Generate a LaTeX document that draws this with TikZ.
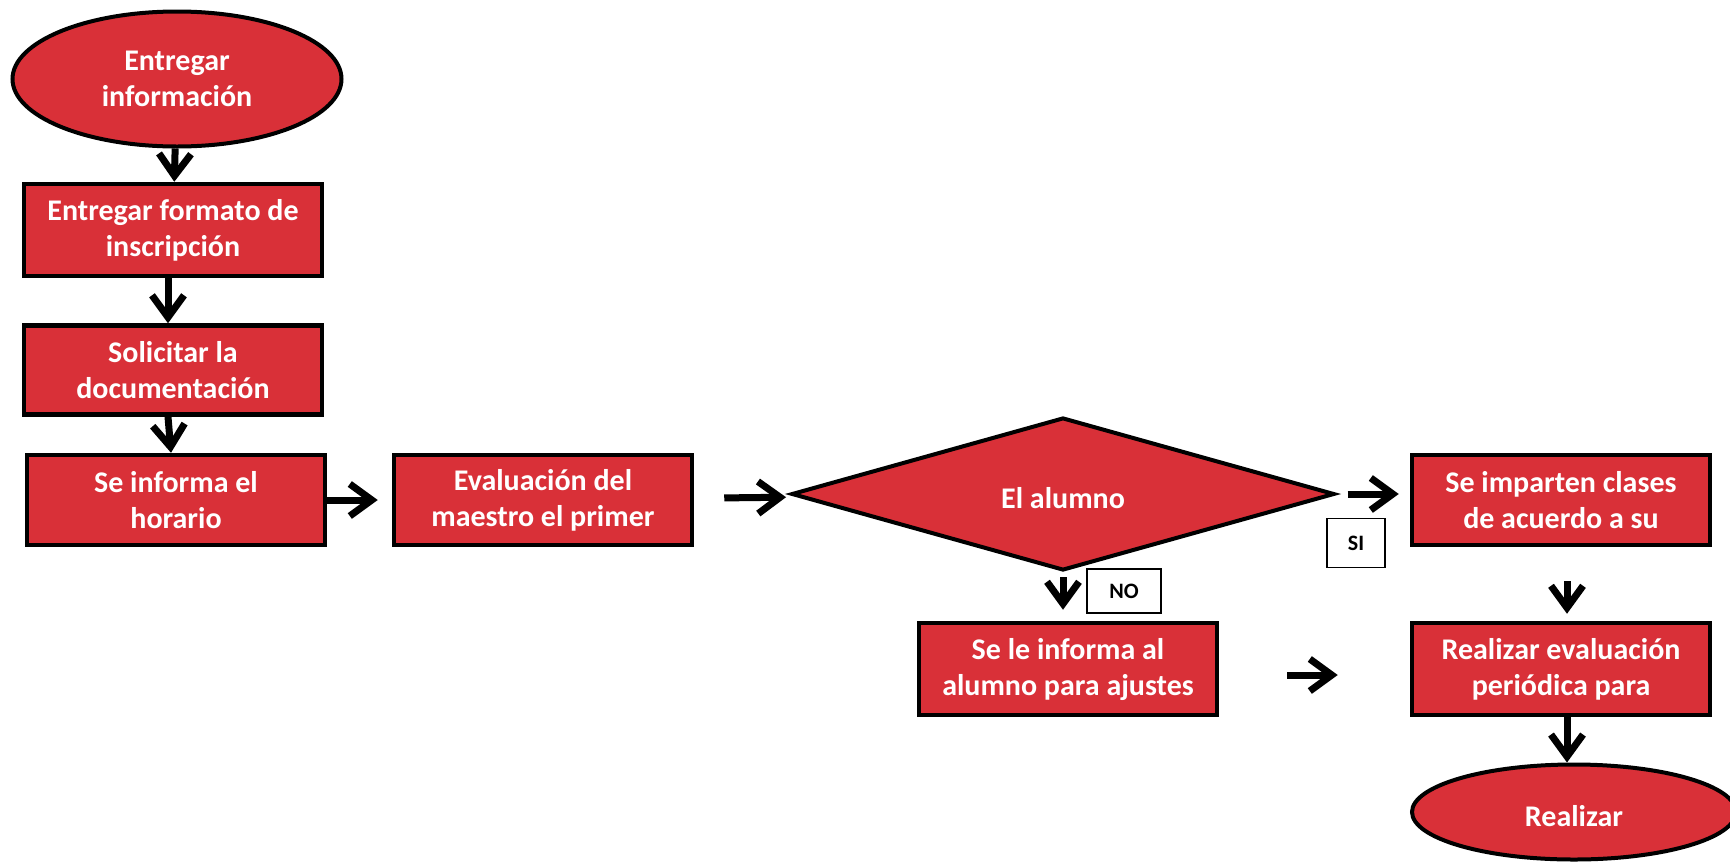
\documentclass[tikz,border=0pt]{standalone}
\usepackage{fontspec}
\setmainfont{Carlito}
\usepackage{xcolor}
\usepackage{tikz}
\usetikzlibrary{shapes.geometric,arrows.meta}
\definecolor{rojo}{RGB}{217,48,56}

\begin{document}
\begin{tikzpicture}[x=1pt,y=-1pt,
        caja/.style={draw=black, line width=4.5pt, fill=rojo, text=white,
            font=\fontsize{30}{36}\selectfont\bfseries, align=center, inner sep=0pt,
            minimum width=298pt, minimum height=90pt,
            execute at begin node={\rule{0pt}{29pt}}},
        ovalo/.style={caja, ellipse, line width=4pt},
        rombo/.style={caja, diamond, line width=4pt, execute at begin node={}},
        etiq/.style={draw=black, line width=1.5pt, fill=white, inner sep=0pt,
            font=\fontsize{22}{26}\selectfont\bfseries},
        flecha/.style={line width=7pt, -{Straight Barb[length=22pt,width=32pt,line width=7pt]}}]
                \fill [white] (0,0) rectangle (1730,863);
                \useasboundingbox (0,0) rectangle (1730,863);
                \node [ovalo, minimum width=329pt, minimum height=135pt] (inicio) at (177,79) {Entregar\\información};
                \node [caja, minimum height=92pt, execute at begin node={\rule{0pt}{34pt}}] (formato) at (173,230) {Entregar formato de\\inscripción};
                \node [caja, minimum height=89pt, execute at begin node={\rule{0pt}{34pt}}] (docs) at (173,370) {Solicitar la\\documentación};
                \node [caja] (horario) at (176,500) {Se informa el\\horario};
                \node [caja] (evalua) at (543,500) {Evaluación del\\maestro el primer};
                \node [rombo, minimum width=543pt, minimum height=138pt] (alumno) at (1063,494) {El alumno};
                \node [caja] (clases) at (1561,500) {Se imparten clases\\de acuerdo a su};
                \node [caja, minimum height=92pt] (ajustes) at (1068,669) {Se le informa al\\alumno para ajustes};
                \node [caja, minimum height=92pt] (periodica) at (1561,669) {Realizar evaluación\\periódica para};
                \node [ovalo, minimum width=324pt, minimum height=95pt, execute at begin node={}] (fin) at (1574,812) {Realizar};
                \node [etiq, minimum width=58pt, minimum height=49pt] (si) at (1356,543) {SI};
                \node [etiq, minimum width=74pt, minimum height=44pt] (no) at (1124,591) {NO};
                \draw [flecha] (inicio) -- (formato);
                \draw [flecha] ([xshift=-5pt]formato.south) -- ([xshift=-5pt]docs.north);
                \draw [flecha] ([xshift=-5pt]docs.south) -- ([xshift=-5pt]horario.north);
                \draw [flecha, shorten >=14pt] (horario) -- (evalua);
                \draw [flecha, shorten <=30pt, shorten >=14pt] (evalua) -- (alumno);
                \draw [flecha, shorten <=11pt, shorten >=11pt] (alumno.east) -- (clases.west |- alumno.east);
                \draw [flecha, shorten <=5pt, shorten >=11pt] (alumno.south) -- (alumno.south |- ajustes.north);
                \draw [flecha, shorten <=34pt, shorten >=7pt] ([xshift=6pt]clases.south) -- ([xshift=6pt]periodica.north);
                \draw [flecha] ([xshift=6pt]periodica.south) -- ([xshift=6pt]periodica.south |- fin.north);
                \draw [flecha, shorten <=68pt, shorten >=72pt] (ajustes.east |- 0,675) -- (periodica.west |- 0,675);
            \end{tikzpicture}
\end{document}
